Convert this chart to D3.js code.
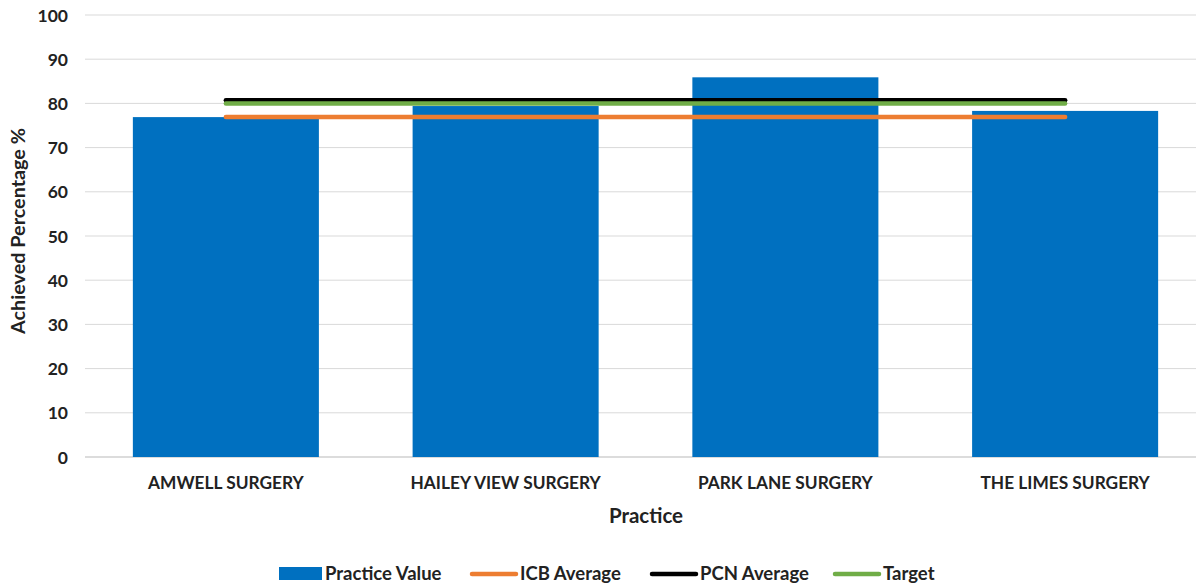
<!DOCTYPE html>
<html><head><meta charset="utf-8">
<script src="https://cdn.jsdelivr.net/npm/d3@7"></script>
<style>body{margin:0;background:#fff}svg{display:block}text{font-family:Lato,"Liberation Sans",sans-serif;font-weight:bold;fill:#222}</style>
</head><body><svg id="c" width="1196" height="585"></svg>
<script>
const categories = ["AMWELL SURGERY","HAILEY VIEW SURGERY","PARK LANE SURGERY","THE LIMES SURGERY"];
const practiceValues = [76.9, 79.4, 85.9, 78.3];
const icbAverage = [76.9, 76.9, 76.9, 76.9];
const pcnAverage = [80.7, 80.7, 80.7, 80.7];
const target = [80, 80, 80, 80];
const yTicks = [0,10,20,30,40,50,60,70,80,90,100];
const legendItems = ["Practice Value","ICB Average","PCN Average","Target"];

const svg = d3.select("#c");
const m = {left:86, right:1205, top:15, bottom:457};
const x = d3.scaleBand().domain(categories).range([m.left, m.right]).paddingInner(0.335).paddingOuter(0.1675);
const y = d3.scaleLinear().domain([0,100]).range([m.bottom, m.top]);

// gridlines
svg.append("g").selectAll("line").data(yTicks).join("line")
  .attr("x1", 85).attr("x2", 1196).attr("y1", d=>y(d)).attr("y2", d=>y(d))
  .attr("stroke", d=> d===0 ? "#d0d0d0" : "#d9d9d9").attr("stroke-width", d=> d===0?1.5:1);

// y axis labels
const yAxis = d3.axisLeft(y).tickValues(yTicks).tickSize(0).tickPadding(0);
const ya = svg.append("g").attr("transform", `translate(68,0)`).call(yAxis);
ya.select(".domain").remove();
ya.selectAll("text").attr("font-size", 17.5).attr("font-family","Lato").attr("font-weight","bold").attr("fill","#222").attr("dy","0.35em");

// bars
svg.append("g").selectAll("rect").data(practiceValues).join("rect")
  .attr("x", (d,i)=>x(categories[i])).attr("width", x.bandwidth())
  .attr("y", d=>y(d)).attr("height", d=>y(0)-y(d)).attr("fill", "#0070C0");

// lines
const lineGen = d3.line().x((d,i)=>x(categories[i])+x.bandwidth()/2).y(d=>y(d));
[[icbAverage,"#ED7D31"],[pcnAverage,"#000000"],[target,"#70AD47"]].forEach(([s,c],k)=>{
  svg.append("path").datum(s).attr("d", lineGen).attr("fill","none").attr("stroke", c)
    .attr("stroke-width", 4.5).attr("stroke-linecap","round");
});

// x axis labels
const xAxis = d3.axisBottom(x).tickSize(0).tickPadding(0);
const xa = svg.append("g").attr("transform", `translate(0,${m.bottom})`).call(xAxis);
xa.select(".domain").remove();
xa.selectAll("text").attr("font-size", 17.3).attr("font-family","Lato").attr("font-weight","bold").attr("fill","#222").attr("y", 32).attr("dy", 0);

// axis titles
svg.append("text").attr("x", 646).attr("y", 523).attr("text-anchor","middle").attr("font-size", 20.5).text("Practice");
svg.append("text").attr("transform","translate(25,231) rotate(-90)").attr("text-anchor","middle").attr("font-size", 19.8).text("Achieved Percentage %");

// legend
const lg = svg.append("g");
const legendX = [279, 470, 650, 833];
const legendColors = ["#0070C0","#ED7D31","#000000","#70AD47"];
legendItems.forEach((t,i)=>{
  if(i===0){
    lg.append("rect").attr("x", legendX[i]).attr("y", 567).attr("width", 43).attr("height", 13).attr("fill", legendColors[i]);
  } else {
    lg.append("line").attr("x1", legendX[i]+2).attr("x2", legendX[i]+46).attr("y1", 574).attr("y2", 574)
      .attr("stroke", legendColors[i]).attr("stroke-width", 4.5).attr("stroke-linecap","round");
  }
  lg.append("text").attr("x", legendX[i]+(i===0?46:50)).attr("y", 580).attr("font-size", 18.5).text(t);
});
</script></body></html>
